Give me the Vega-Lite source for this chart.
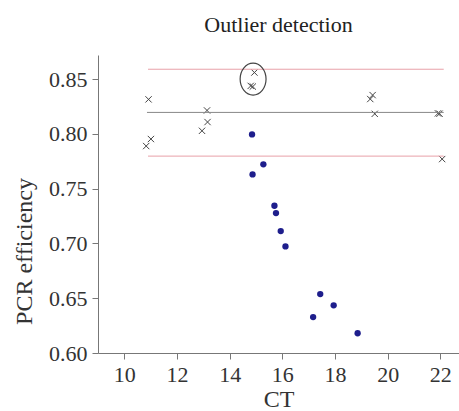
{
  "$schema": "https://vega.github.io/schema/vega-lite/v6.json",
  "width": 361,
  "height": 298,
  "autosize": {"type": "none"},
  "padding": {"left": 98, "top": 55, "right": 0, "bottom": 58},
  "background": "white",
  "title": {
    "text": "Outlier detection",
    "font": "Liberation Serif",
    "fontSize": 22,
    "fontWeight": "normal",
    "color": "#222222",
    "offset": 18
  },
  "config": {
    "view": {"stroke": null},
    "axis": {
      "grid": false,
      "domainColor": "#777777",
      "tickColor": "#777777",
      "labelFont": "Liberation Serif",
      "labelFontSize": 22,
      "labelColor": "#333333",
      "titleFont": "Liberation Serif",
      "titleFontSize": 24,
      "titleFontWeight": "normal",
      "titleColor": "#333333"
    }
  },
  "datasets": {
    "points": [
      {"ct": 10.92, "eff": 0.8315, "kind": "outlier"},
      {"ct": 11.01, "eff": 0.7953, "kind": "outlier"},
      {"ct": 10.83, "eff": 0.7889, "kind": "outlier"},
      {"ct": 13.14, "eff": 0.8214, "kind": "outlier"},
      {"ct": 13.16, "eff": 0.8108, "kind": "outlier"},
      {"ct": 12.95, "eff": 0.8028, "kind": "outlier"},
      {"ct": 14.94, "eff": 0.856, "kind": "outlier"},
      {"ct": 14.8, "eff": 0.8438, "kind": "outlier"},
      {"ct": 14.88, "eff": 0.8432, "kind": "outlier"},
      {"ct": 19.34, "eff": 0.8318, "kind": "outlier"},
      {"ct": 19.43, "eff": 0.8354, "kind": "outlier"},
      {"ct": 19.51, "eff": 0.8183, "kind": "outlier"},
      {"ct": 21.91, "eff": 0.8187, "kind": "outlier"},
      {"ct": 21.97, "eff": 0.8184, "kind": "outlier"},
      {"ct": 22.07, "eff": 0.777, "kind": "outlier"},
      {"ct": 14.85, "eff": 0.7995, "kind": "sample"},
      {"ct": 15.28, "eff": 0.7722, "kind": "sample"},
      {"ct": 14.87, "eff": 0.763, "kind": "sample"},
      {"ct": 15.7, "eff": 0.7344, "kind": "sample"},
      {"ct": 15.76, "eff": 0.7277, "kind": "sample"},
      {"ct": 15.94, "eff": 0.7113, "kind": "sample"},
      {"ct": 16.12, "eff": 0.6973, "kind": "sample"},
      {"ct": 17.44, "eff": 0.6538, "kind": "sample"},
      {"ct": 17.95, "eff": 0.6435, "kind": "sample"},
      {"ct": 17.17, "eff": 0.6328, "kind": "sample"},
      {"ct": 18.86, "eff": 0.618, "kind": "sample"}
    ],
    "limits": [
      {"x1": 10.86, "x2": 22.13, "eff": 0.8196, "kind": "mean"},
      {"x1": 10.9, "x2": 22.13, "eff": 0.859, "kind": "limit"},
      {"x1": 10.9, "x2": 22.13, "eff": 0.7797, "kind": "limit"}
    ],
    "circle": [
      {"ct": 14.89, "eff": 0.85}
    ]
  },
  "layer": [
    {
      "data": {"name": "points"},
      "transform": [{"filter": "datum.kind == 'outlier'"}],
      "mark": {
        "type": "point",
        "shape": "M-1,-1L1,1M1,-1L-1,1",
        "filled": false,
        "size": 40,
        "strokeWidth": 1,
        "color": "#444444",
        "opacity": 1
      },
      "encoding": {
        "x": {
          "field": "ct", "type": "quantitative",
          "scale": {"domain": [9, 22.71], "nice": false, "zero": false},
          "axis": {
            "title": "CT",
            "values": [10, 12, 14, 16, 18, 20, 22],
            "tickSize": 6,
            "labelPadding": 5,
            "titlePadding": 2
          }
        },
        "y": {
          "field": "eff", "type": "quantitative",
          "scale": {"domain": [0.6, 0.872], "nice": false, "zero": false},
          "axis": {
            "title": "PCR efficiency",
            "values": [0.6, 0.625, 0.65, 0.675, 0.7, 0.725, 0.75, 0.775, 0.8, 0.825, 0.85],
            "format": ".2f",
            "labelExpr": "round(datum.value * 1000) % 50 == 0 ? datum.label : ''",
            "labelOverlap": false,
            "tickSize": {"condition": {"test": "round(datum.value * 1000) % 50 == 0", "value": 6}, "value": 3},
            "labelPadding": 5,
            "titleX": -74,
            "titleY": 196,
            "titleAlign": "center",
            "titleBaseline": "middle",
            "titleAngle": 270
          }
        }
      }
    },
    {
      "data": {"name": "limits"},
      "mark": {"type": "rule", "strokeWidth": 1},
      "encoding": {
        "x": {"field": "x1", "type": "quantitative"},
        "x2": {"field": "x2"},
        "y": {"field": "eff", "type": "quantitative"},
        "color": {
          "field": "kind", "type": "nominal",
          "scale": {"domain": ["mean", "limit"], "range": ["#888888", "#e8a0a8"]},
          "legend": null
        }
      }
    },
    {
      "data": {"name": "points"},
      "transform": [{"filter": "datum.kind == 'sample'"}],
      "mark": {
        "type": "circle",
        "size": 40,
        "color": "#1e1e8c",
        "opacity": 1
      },
      "encoding": {
        "x": {"field": "ct", "type": "quantitative"},
        "y": {"field": "eff", "type": "quantitative"}
      }
    },
    {
      "data": {"name": "circle"},
      "mark": {
        "type": "point",
        "shape": "M0,-1A0.81,1,0,1,1,0,1A0.81,1,0,1,1,0,-1Z",
        "filled": false,
        "size": 1024,
        "strokeWidth": 1.2,
        "color": "#444444",
        "opacity": 1
      },
      "encoding": {
        "x": {"field": "ct", "type": "quantitative"},
        "y": {"field": "eff", "type": "quantitative"}
      }
    }
  ]
}
